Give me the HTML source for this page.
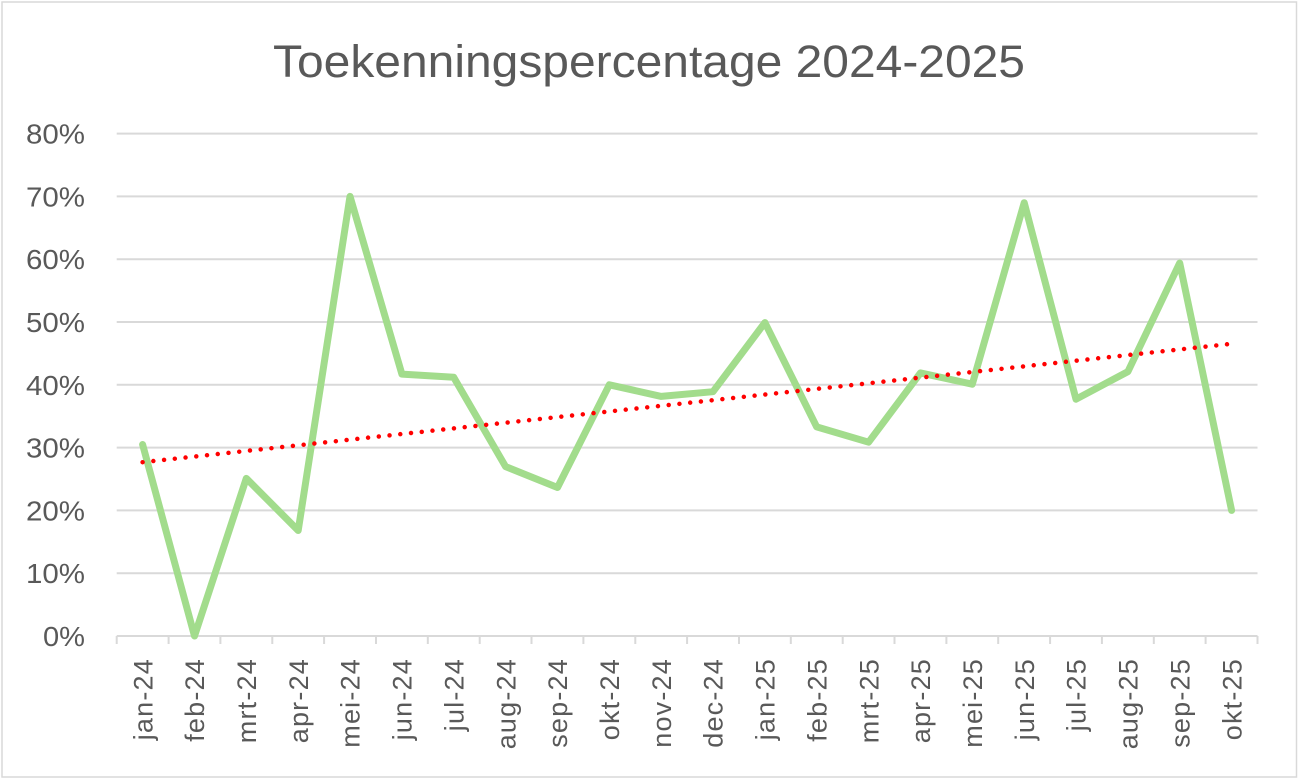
<!DOCTYPE html>
<html>
<head>
<meta charset="utf-8">
<style>
  html,body{margin:0;padding:0;background:#fff;}
  svg{display:block;}
  text{font-family:"Liberation Sans", sans-serif; fill:#595959;}
</style>
</head>
<body>
<svg width="1299" height="780" viewBox="0 0 1299 780" xmlns="http://www.w3.org/2000/svg">
  <rect x="0" y="0" width="1299" height="780" fill="#fff"/>
  <rect x="2" y="2" width="1294.5" height="775" fill="none" stroke="#D9D9D9" stroke-width="1.5"/>

  <!-- Title -->
  <text x="649" y="77" font-size="45" text-anchor="middle" textLength="752" lengthAdjust="spacingAndGlyphs">Toekenningspercentage 2024-2025</text>

  <!-- Gridlines -->
  <g stroke="#D9D9D9" stroke-width="2">
    <line x1="116.7" x2="1257.5" y1="133.6" y2="133.6"/>
    <line x1="116.7" x2="1257.5" y1="196.4" y2="196.4"/>
    <line x1="116.7" x2="1257.5" y1="259.2" y2="259.2"/>
    <line x1="116.7" x2="1257.5" y1="322" y2="322"/>
    <line x1="116.7" x2="1257.5" y1="384.8" y2="384.8"/>
    <line x1="116.7" x2="1257.5" y1="447.6" y2="447.6"/>
    <line x1="116.7" x2="1257.5" y1="510.4" y2="510.4"/>
    <line x1="116.7" x2="1257.5" y1="573.2" y2="573.2"/>
    <line x1="116.7" x2="1257.5" y1="636" y2="636"/>
  </g>
  <!-- Ticks -->
  <g stroke="#D9D9D9" stroke-width="2">
    <line x1="116.7" x2="116.7" y1="636" y2="644"/>
    <line x1="168.6" x2="168.6" y1="636" y2="644"/>
    <line x1="220.4" x2="220.4" y1="636" y2="644"/>
    <line x1="272.3" x2="272.3" y1="636" y2="644"/>
    <line x1="324.1" x2="324.1" y1="636" y2="644"/>
    <line x1="376.0" x2="376.0" y1="636" y2="644"/>
    <line x1="427.8" x2="427.8" y1="636" y2="644"/>
    <line x1="479.7" x2="479.7" y1="636" y2="644"/>
    <line x1="531.5" x2="531.5" y1="636" y2="644"/>
    <line x1="583.4" x2="583.4" y1="636" y2="644"/>
    <line x1="635.3" x2="635.3" y1="636" y2="644"/>
    <line x1="687.1" x2="687.1" y1="636" y2="644"/>
    <line x1="739.0" x2="739.0" y1="636" y2="644"/>
    <line x1="790.8" x2="790.8" y1="636" y2="644"/>
    <line x1="842.7" x2="842.7" y1="636" y2="644"/>
    <line x1="894.5" x2="894.5" y1="636" y2="644"/>
    <line x1="946.4" x2="946.4" y1="636" y2="644"/>
    <line x1="998.2" x2="998.2" y1="636" y2="644"/>
    <line x1="1050.1" x2="1050.1" y1="636" y2="644"/>
    <line x1="1101.9" x2="1101.9" y1="636" y2="644"/>
    <line x1="1153.8" x2="1153.8" y1="636" y2="644"/>
    <line x1="1205.6" x2="1205.6" y1="636" y2="644"/>
    <line x1="1257.5" x2="1257.5" y1="636" y2="644"/>
  </g>

  <!-- Y labels -->
  <g font-size="28" text-anchor="end">
    <text x="85" y="143.6" textLength="59" lengthAdjust="spacingAndGlyphs">80%</text>
    <text x="85" y="206.4" textLength="59" lengthAdjust="spacingAndGlyphs">70%</text>
    <text x="85" y="269.2" textLength="59" lengthAdjust="spacingAndGlyphs">60%</text>
    <text x="85" y="332" textLength="59" lengthAdjust="spacingAndGlyphs">50%</text>
    <text x="85" y="394.8" textLength="59" lengthAdjust="spacingAndGlyphs">40%</text>
    <text x="85" y="457.6" textLength="59" lengthAdjust="spacingAndGlyphs">30%</text>
    <text x="85" y="520.4" textLength="59" lengthAdjust="spacingAndGlyphs">20%</text>
    <text x="85" y="583.2" textLength="59" lengthAdjust="spacingAndGlyphs">10%</text>
    <text x="85" y="646" textLength="42" lengthAdjust="spacingAndGlyphs">0%</text>
  </g>

  <!-- X labels -->
  <g font-size="27" text-anchor="end" letter-spacing="1.2">
    <text transform="translate(152.3,658) rotate(-90)">jan-24</text>
    <text transform="translate(204.2,658) rotate(-90)">feb-24</text>
    <text transform="translate(256.0,658) rotate(-90)">mrt-24</text>
    <text transform="translate(307.9,658) rotate(-90)">apr-24</text>
    <text transform="translate(359.7,658) rotate(-90)">mei-24</text>
    <text transform="translate(411.6,658) rotate(-90)">jun-24</text>
    <text transform="translate(463.4,658) rotate(-90)">jul-24</text>
    <text transform="translate(515.3,658) rotate(-90)">aug-24</text>
    <text transform="translate(567.2,658) rotate(-90)">sep-24</text>
    <text transform="translate(619.0,658) rotate(-90)">okt-24</text>
    <text transform="translate(670.9,658) rotate(-90)">nov-24</text>
    <text transform="translate(722.7,658) rotate(-90)">dec-24</text>
    <text transform="translate(774.6,658) rotate(-90)">jan-25</text>
    <text transform="translate(826.4,658) rotate(-90)">feb-25</text>
    <text transform="translate(878.3,658) rotate(-90)">mrt-25</text>
    <text transform="translate(930.2,658) rotate(-90)">apr-25</text>
    <text transform="translate(982.0,658) rotate(-90)">mei-25</text>
    <text transform="translate(1033.9,658) rotate(-90)">jun-25</text>
    <text transform="translate(1085.7,658) rotate(-90)">jul-25</text>
    <text transform="translate(1137.6,658) rotate(-90)">aug-25</text>
    <text transform="translate(1189.4,658) rotate(-90)">sep-25</text>
    <text transform="translate(1241.3,658) rotate(-90)">okt-25</text>
  </g>

  <!-- Data line -->
  <polyline fill="none" stroke="#A2DC8C" stroke-width="7" stroke-linejoin="round" stroke-linecap="round"
    points="142.6,444.5 194.5,636 246.3,478.4 298.2,530.5 350.0,196.4 401.9,374.1 453.7,377.3 505.6,466.6 557.5,487.5 609.3,384.8 661.2,396.4 713.0,391.7 764.9,322.6 816.7,426.9 868.6,442.2 920.5,372.9 972.3,384.2 1024.2,202.7 1076.0,399.2 1127.9,371.6 1179.7,263 1231.6,510.4"/>

  <!-- Trendline -->
  <line x1="142.6" y1="462.2" x2="1231.6" y2="343.8" stroke="#FF0000" stroke-width="4.5" stroke-linecap="round" stroke-dasharray="0 10.8"/>
</svg>
</body>
</html>
